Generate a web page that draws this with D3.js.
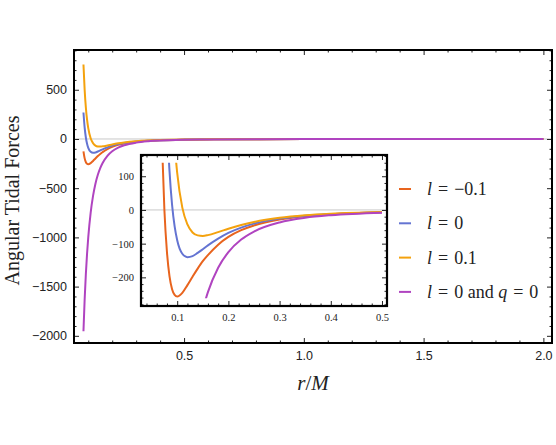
<!DOCTYPE html>
<html>
<head>
<meta charset="utf-8">
<script src="https://cdn.jsdelivr.net/npm/d3@7/dist/d3.min.js"></script>
<style>
  body { margin: 0; background: #fff; }
  svg { display: block; }
  .tk text { font-family: "Liberation Sans", Arial, sans-serif; font-size: 12.5px; fill: #222; }
  .itk text { font-family: "Liberation Serif", serif; font-size: 10.5px; fill: #222; }
  .tk .domain, .itk .domain { display: none; }
  .tk line, .itk line { stroke: #222; }
</style>
</head>
<body>
<svg width="556" height="445"></svg>
<script>
// radius samples (r/M)
var radius = [0.07, 0.075, 0.08, 0.085, 0.09, 0.095, 0.1, 0.11, 0.12, 0.13, 0.14, 0.15, 0.16, 0.18, 0.2,
              0.225, 0.25, 0.3, 0.35, 0.4, 0.5, 0.6, 0.8, 1.0, 1.25, 1.5, 1.75, 2.0];

// angular tidal force
var lMinus = [212, 0, -125, -197, -235, -252, -257, -246, -223, -198, -174, -152, -134, -103, -80,
              -60, -46, -28.6, -18.8, -13.1, -7.0, -4.2, -1.8, -0.95, -0.49, -0.29, -0.18, -0.12];
var lZero  = [875, 506, 269, 115, 15, -49, -90, -130, -140, -137, -127.5, -116.5, -105, -85, -68,
              -52.3, -40.7, -25.8, -17.3, -12.1, -6.5, -3.9, -1.7, -0.91, -0.48, -0.28, -0.18, -0.12];
var lPlus  = [1708, 1138, 757, 498, 320, 196, 110, 7, -43, -67, -75.5, -77, -74.7, -65.8, -55.6,
              -44.5, -35.6, -23.3, -15.9, -11.3, -6.2, -3.8, -1.7, -0.89, -0.47, -0.27, -0.18, -0.12];
var lZeroQZero = [-2915, -2370, -1953, -1628, -1372, -1166, -1000, -751, -579, -455, -364, -296, -244, -171.5, -125,
              -87.8, -64, -37, -23.3, -15.6, -8, -4.6, -1.95, -1, -0.51, -0.3, -0.19, -0.125];

var seriesNames = ["l = \u22120.1", "l = 0", "l = 0.1", "l = 0 and q = 0"];
var seriesColors = ["#e8641e", "#6474d2", "#f4a20e", "#b044c0"];
var seriesValues = [lMinus, lZero, lPlus, lZeroQZero];

var mainStart = 0.08;          // main panel curves begin here
var insetClip = [-262, 140];   // plot range of the inset

var svg = d3.select("svg");

// ---------- main panel ----------
var box = {left: 74, right: 552, top: 50, bottom: 343};

var x = d3.scaleLinear().domain([0.0405, 2.036]).range([box.left, box.right]);
var y = d3.scaleLinear().domain([-2073, 904]).range([box.bottom, box.top]);

function frameTicks(g, xs, ys, xMaj, xMin, yMaj, yMin, cls, b, xFmt, yFmt) {
    var a = g.append("g").attr("class", cls);
    a.append("g").attr("transform", "translate(0," + b.bottom + ")")
        .call(d3.axisBottom(xs).tickValues(xMaj).tickSize(-5).tickPadding(8).tickFormat(xFmt));
    a.append("g").attr("transform", "translate(0," + b.bottom + ")")
        .call(d3.axisBottom(xs).tickValues(xMin).tickSize(-2.5).tickFormat(""));
    a.append("g").attr("transform", "translate(0," + b.top + ")")
        .call(d3.axisTop(xs).tickValues(xMaj).tickSize(-5).tickFormat(""));
    a.append("g").attr("transform", "translate(0," + b.top + ")")
        .call(d3.axisTop(xs).tickValues(xMin).tickSize(-2.5).tickFormat(""));
    a.append("g").attr("transform", "translate(" + b.left + ",0)")
        .call(d3.axisLeft(ys).tickValues(yMaj).tickSize(-5).tickPadding(7).tickFormat(yFmt));
    a.append("g").attr("transform", "translate(" + b.left + ",0)")
        .call(d3.axisLeft(ys).tickValues(yMin).tickSize(-2.5).tickFormat(""));
    a.append("g").attr("transform", "translate(" + b.right + ",0)")
        .call(d3.axisRight(ys).tickValues(yMaj).tickSize(-5).tickFormat(""));
    a.append("g").attr("transform", "translate(" + b.right + ",0)")
        .call(d3.axisRight(ys).tickValues(yMin).tickSize(-2.5).tickFormat(""));
}

function notIn(list) {
    return function(v) { return !list.some(function(m) { return Math.abs(m - v) < 1e-9; }); };
}

var xMajor = [0.5, 1.0, 1.5, 2.0];
var xMinor = d3.range(1, 21).map(function(i) { return i / 10; }).filter(notIn(xMajor));
var yMajor = [-2000, -1500, -1000, -500, 0, 500];
var yMinor = d3.range(-2000, 901, 100).filter(notIn(yMajor));

svg.append("line")
    .attr("x1", box.left).attr("x2", box.right)
    .attr("y1", y(0)).attr("y2", y(0))
    .attr("stroke", "#c8c8c8").attr("stroke-width", 1);

var mainLine = d3.line()
    .x(function(d) { return x(d[0]); })
    .y(function(d) { return y(d[1]); })
    .curve(d3.curveMonotoneX);

seriesValues.forEach(function(vals, i) {
    var pts = radius.map(function(r, k) { return [r, vals[k]]; }).filter(function(d) { return d[0] >= mainStart; });
    svg.append("path")
        .attr("d", mainLine(pts))
        .attr("fill", "none")
        .attr("stroke", seriesColors[i])
        .attr("stroke-width", 2);
});

frameTicks(svg, x, y, xMajor, xMinor, yMajor, yMinor, "tk", box, d3.format(".1f"), d3.format("d"));

svg.append("rect")
    .attr("x", box.left).attr("y", box.top)
    .attr("width", box.right - box.left).attr("height", box.bottom - box.top)
    .attr("fill", "none").attr("stroke", "#000").attr("stroke-width", 2);

svg.append("text")
    .attr("transform", "translate(19," + ((box.top + box.bottom) / 2 + 4) + ") rotate(-90)")
    .attr("text-anchor", "middle")
    .style("font-family", "Liberation Serif, serif")
    .style("font-size", "20px")
    .attr("fill", "#222")
    .text("Angular Tidal Forces");

var xl = svg.append("text")
    .attr("x", 313).attr("y", 390)
    .attr("text-anchor", "middle")
    .style("font-family", "Liberation Serif, serif")
    .style("font-size", "21px")
    .attr("fill", "#222");
xl.append("tspan").style("font-style", "italic").text("r");
xl.append("tspan").text("/");
xl.append("tspan").style("font-style", "italic").text("M");

// ---------- inset ----------
var ib = {left: 141, right: 387, top: 155, bottom: 306};
var xi = d3.scaleLinear().domain([0.0293, 0.5098]).range([ib.left, ib.right]);
var yi = d3.scaleLinear().domain([-285, 163]).range([ib.bottom, ib.top]);

var inset = svg.append("g");
inset.append("rect")
    .attr("x", ib.left).attr("y", ib.top)
    .attr("width", ib.right - ib.left).attr("height", ib.bottom - ib.top)
    .attr("fill", "#fff");

svg.append("clipPath").attr("id", "insetClip")
    .append("rect")
    .attr("x", ib.left).attr("width", ib.right - ib.left)
    .attr("y", yi(insetClip[1])).attr("height", yi(insetClip[0]) - yi(insetClip[1]));

inset.append("line")
    .attr("x1", ib.left).attr("x2", ib.right)
    .attr("y1", yi(0)).attr("y2", yi(0))
    .attr("stroke", "#c8c8c8").attr("stroke-width", 1);

var insetLine = d3.line()
    .x(function(d) { return xi(d[0]); })
    .y(function(d) { return yi(d[1]); })
    .curve(d3.curveMonotoneX);

var curves = inset.append("g").attr("clip-path", "url(#insetClip)");
seriesValues.forEach(function(vals, i) {
    var pts = radius.map(function(r, k) { return [r, vals[k]]; }).filter(function(d) { return d[0] <= 0.5; });
    curves.append("path")
        .attr("d", insetLine(pts))
        .attr("fill", "none")
        .attr("stroke", seriesColors[i])
        .attr("stroke-width", 2);
});

var ixMajor = [0.1, 0.2, 0.3, 0.4, 0.5];
var ixMinor = d3.range(2, 26).map(function(i) { return i / 50; }).filter(notIn(ixMajor));
var iyMajor = [-200, -100, 0, 100];
var iyMinor = d3.range(-280, 161, 20).filter(notIn(iyMajor));

frameTicks(inset, xi, yi, ixMajor, ixMinor, iyMajor, iyMinor, "itk", ib, d3.format(".1f"), d3.format("d"));

inset.append("rect")
    .attr("x", ib.left).attr("y", ib.top)
    .attr("width", ib.right - ib.left).attr("height", ib.bottom - ib.top)
    .attr("fill", "none").attr("stroke", "#000").attr("stroke-width", 2.2);

// ---------- legend ----------
var legend = svg.append("g").attr("transform", "translate(399,189)");
seriesNames.forEach(function(name, i) {
    var row = legend.append("g").attr("transform", "translate(0," + (i * 34.3) + ")");
    row.append("line")
        .attr("x1", 0).attr("x2", 12)
        .attr("stroke", seriesColors[i]).attr("stroke-width", 2);
    var t = row.append("text")
        .attr("x", 28).attr("y", 6)
        .style("font-family", "Liberation Serif, serif")
        .style("font-size", "18px")
        .attr("fill", "#222")
        .attr("xml:space", "preserve");
    // italic symbols, upright numbers and words
    name.split(/([lq])/).forEach(function(part) {
        if (part === "") return;
        t.append("tspan")
            .style("font-style", (part === "l" || part === "q") ? "italic" : "normal")
            .text(part.replace(/ = /g, " \u200a=\u200a "));
    });
});
</script>
</body>
</html>
